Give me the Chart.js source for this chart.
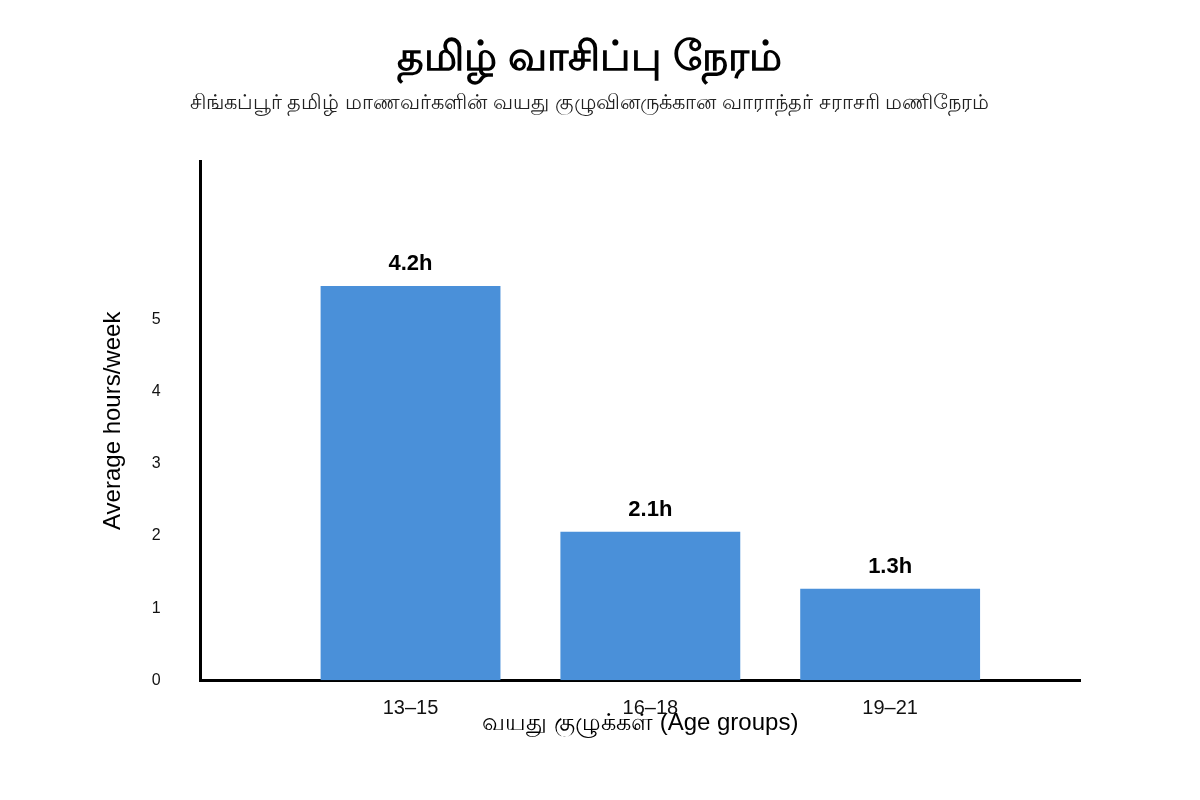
<!DOCTYPE html>
<html>
<head>
<meta charset="utf-8">
<title>தமிழ் வாசிப்பு நேரம்</title>
<script src="https://cdn.jsdelivr.net/npm/chart.js@4/dist/chart.umd.min.js"></script>
<style>
    html, body { margin: 0; padding: 0; background: #fff; }
    #wrap { width: 1200px; height: 800px; }
</style>
</head>
<body>
<div id="wrap"><canvas id="reading-chart" width="1200" height="800"></canvas></div>
<script>
// Age groups and average weekly hours
const ageGroups = ['13–15', '16–18', '19–21'];
const avgHours = [5.47, 2.06, 1.27];
const barLabels = ['4.2h', '2.1h', '1.3h'];
const yTicks = [0, 1, 2, 3, 4, 5];

const FONT = '"Liberation Sans", Arial, sans-serif';

// Labels above each bar
const barLabelPlugin = {
    id: 'barLabels',
    afterDatasetsDraw(chart) {
        const ctx = chart.ctx;
        const meta = chart.getDatasetMeta(0);
        ctx.save();
        ctx.font = 'bold 22px ' + FONT;
        ctx.fillStyle = '#000';
        ctx.textAlign = 'center';
        ctx.textBaseline = 'middle';
        meta.data.forEach((bar, i) => {
            ctx.fillText(barLabels[i], bar.x, bar.y - 22);
        });
        ctx.restore();
    }
};

function initChart() {
    const canvas = document.getElementById('reading-chart');
    if (!canvas) return;

    new Chart(canvas, {
        type: 'bar',
        data: {
            datasets: [{
                data: avgHours.map((v, i) => ({ x: i, y: v })),
                backgroundColor: '#4A90D9',
                borderWidth: 0,
                barPercentage: 0.75,
                categoryPercentage: 1
            }]
        },
        options: {
            responsive: false,
            animation: false,
            layout: {
                padding: { top: 34, left: 99, right: 120, bottom: 62 }
            },
            plugins: {
                legend: { display: false },
                tooltip: { enabled: false },
                title: {
                    display: true,
                    text: 'தமிழ் வாசிப்பு நேரம்',
                    color: '#000',
                    font: { family: FONT, size: 41, weight: 'bold' },
                    padding: { top: 0, bottom: 3 }
                },
                subtitle: {
                    display: true,
                    text: 'சிங்கப்பூர் தமிழ் மாணவர்களின் வயது குழுவினருக்கான வாராந்தர் சராசரி மணிநேரம்',
                    color: '#222',
                    font: { family: FONT, size: 21 },
                    padding: { top: 4, bottom: 46 }
                }
            },
            scales: {
                x: {
                    type: 'linear',
                    offset: false,
                    min: -0.875,
                    max: 2.7917,
                    grid: { display: false, drawTicks: false },
                    border: { display: true, color: '#000', width: 3 },
                    afterBuildTicks: axis => {
                        axis.ticks = ageGroups.map((g, i) => ({ value: i }));
                    },
                    ticks: {
                        padding: 16,
                        color: '#111',
                        font: { family: FONT, size: 20 },
                        callback: v => ageGroups[v]
                    },
                    title: {
                        display: true,
                        text: 'வயது குழுக்கள் (Age groups)',
                        color: '#000',
                        font: { family: FONT, size: 24 },
                        padding: { top: -27, bottom: 0 }
                    }
                },
                y: {
                    min: 0,
                    max: 7.2,
                    grid: { display: false, drawTicks: false },
                    border: { display: true, color: '#000', width: 3 },
                    afterBuildTicks: axis => {
                        axis.ticks = yTicks.map(v => ({ value: v }));
                    },
                    ticks: {
                        padding: 40,
                        color: '#111',
                        font: { family: FONT, size: 16 }
                    },
                    title: {
                        display: true,
                        text: 'Average hours/week',
                        color: '#000',
                        font: { family: FONT, size: 24 },
                        padding: { top: 0, bottom: -16 }
                    }
                }
            }
        },
        plugins: [barLabelPlugin]
    });
}

document.addEventListener('DOMContentLoaded', initChart);
</script>
</body>
</html>
